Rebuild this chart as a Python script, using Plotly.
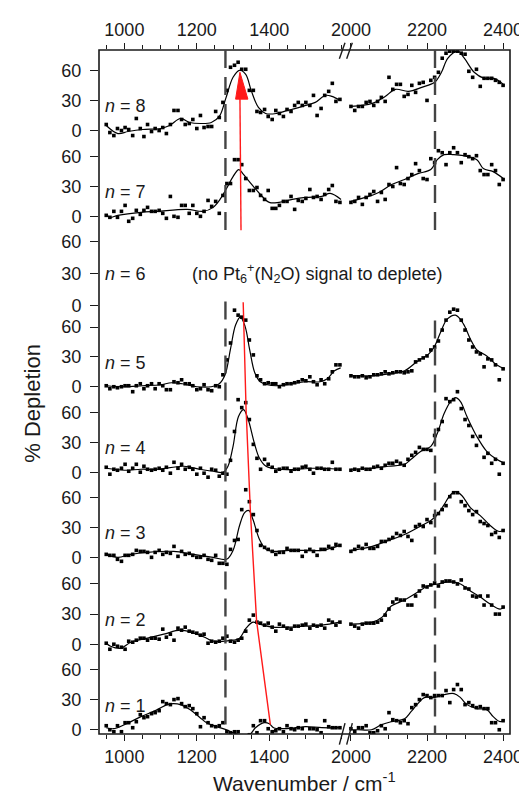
import plotly.graph_objects as go

# wavenumber grids of the two measured windows
WN_LEFT = [950, 960, 971, 981, 992, 1002, 1012, 1023, 1033, 1044,
           1054, 1064, 1075, 1085, 1096, 1106, 1116, 1127, 1137, 1148,
           1158, 1168, 1179, 1189, 1200, 1210, 1220, 1231, 1241, 1252,
           1262, 1272, 1283, 1293, 1304, 1314, 1324, 1335, 1345, 1356,
           1366, 1376, 1387, 1397, 1408, 1418, 1428, 1439, 1449, 1460,
           1470, 1480, 1491, 1501, 1512, 1522, 1532, 1543, 1553, 1564,
           1574, 1584, 1595]
WN_RIGHT = [2000, 2010, 2020, 2030, 2040, 2050, 2060, 2070, 2080, 2090,
            2100, 2110, 2120, 2130, 2140, 2150, 2160, 2170, 2180, 2190,
            2200, 2210, 2220, 2230, 2240, 2250, 2260, 2270, 2280, 2290,
            2300, 2310, 2320, 2330, 2340, 2350, 2360, 2370, 2380, 2390, 2400]

# % depletion, measured points
PTS_L8 = [6,-2,-5,2,0,3,1,-5,12,2,-6,6,-1,2,0,3,-3,6,20,20,11,6,7,11,2,15,3,4,4,19,
          13,28,40,63,65,68,61,61,40,40,19,18,21,14,11,20,17,14,21,19,25,28,25,28,25,
          35,15,22,35,39,47,29,31]
PTS_R8 = [24,20,24,24,28,29,25,29,33,29,53,41,46,46,34,36,45,38,47,48,30,50,53,58,72,
          77,79,79,79,77,76,59,53,61,44,52,52,52,50,48,45]
PTS_L7 = [1,-1,5,-1,5,11,-5,-2,6,2,6,9,5,5,6,3,-2,20,0,-1,11,11,3,11,3,0,5,16,10,15,
          3,21,33,33,57,57,52,38,26,26,29,21,17,26,8,8,11,15,15,20,7,16,15,18,27,19,
          20,17,22,27,31,15,14]
PTS_R7 = [14,15,19,12,19,22,25,15,24,17,32,30,49,33,32,38,42,53,46,38,37,58,54,66,64,
          52,64,69,64,54,62,60,58,61,46,42,42,52,46,32,37]
PTS_L5 = [1,-2,0,-1,0,1,1,-5,1,3,-2,1,3,-2,3,1,-3,-3,5,4,7,3,3,1,-3,-2,2,-3,-4,1,
          0,12,27,44,77,72,70,67,47,32,11,7,3,4,3,3,0,2,3,3,4,5,7,6,10,5,2,7,3,8,
          15,22,22]
PTS_R5 = [11,10,10,11,9,10,12,12,13,15,13,14,15,15,14,15,16,25,27,29,31,37,40,46,57,
          67,75,78,77,67,57,47,40,35,33,20,28,27,22,7,18]
PTS_L4 = [5,-2,3,2,4,8,1,4,8,0,6,3,2,3,4,2,5,-1,10,4,8,3,5,3,-2,4,-1,-5,3,2,-4,-1,-2,
          12,41,73,65,70,53,28,14,3,13,8,5,1,3,4,4,1,3,3,5,6,3,-1,4,4,3,3,10,3,3]
PTS_R4 = [2,3,2,4,3,3,5,6,4,7,9,9,11,9,7,13,17,20,25,23,23,22,37,43,51,74,71,73,81,64,
          53,47,36,27,36,15,19,9,13,-2,9]
PTS_L3 = [3,2,2,-2,-4,2,2,3,7,6,6,5,0,5,7,3,5,4,11,1,6,3,4,2,0,0,2,-2,-3,2,-6,-6,-7,
          8,17,18,48,68,56,43,27,12,10,8,6,3,5,5,9,7,7,7,1,6,8,6,2,8,8,11,9,13,12]
PTS_R3 = [6,8,11,9,13,9,9,11,16,16,18,20,24,22,26,21,17,31,33,31,38,35,42,44,48,52,61,
          65,65,56,52,47,43,46,36,34,32,23,25,20,27]
PTS_L2 = [1,-5,0,-2,-3,-5,3,2,4,6,6,4,6,6,5,15,7,10,4,16,14,17,13,12,11,9,10,1,3,2,
          3,6,8,3,2,4,6,13,24,29,22,21,19,21,17,13,20,18,16,15,18,18,19,20,16,19,18,
          19,16,24,22,19,22]
PTS_R2 = [20,18,16,20,21,21,21,22,24,29,35,42,45,44,44,39,39,48,53,58,57,59,61,58,62,
          63,63,62,60,64,56,55,48,47,48,39,48,39,30,30,37]
PTS_L1 = [4,0,-2,4,-2,7,7,2,8,15,12,13,16,17,19,28,26,25,30,31,26,23,24,21,16,3,12,7,
          4,3,4,7,-2,-3,-2,-2,-6,-7,-5,4,-3,9,9,1,-2,-1,1,-2,4,1,0,2,1,9,1,1,0,-3,9,
          3,2,2,2]
PTS_R1 = [1,-2,2,2,4,-3,-3,-1,4,1,17,10,9,7,9,6,22,25,30,35,34,32,34,34,34,39,27,40,
          45,40,25,27,24,22,23,21,21,7,7,0,9]

# smoothed fits
FIT_L8_X = [950, 982, 1010, 1050, 1100, 1125, 1155, 1180, 1210, 1240, 1262, 1280, 1300,
            1318, 1335, 1350, 1370, 1390, 1420, 1450, 1473, 1500, 1527, 1555, 1573, 1595]
FIT_L8_Y = [5, -3, -1, 1, 2, 5, 12, 8, 7, 8, 14, 32, 53, 60, 56, 40, 23, 17, 17, 20, 22,
            25, 28, 35, 34, 30]
FIT_R8_X = [2000, 2056, 2090, 2117, 2151, 2186, 2220, 2238, 2255, 2281, 2298, 2324, 2350,
            2376, 2404]
FIT_R8_Y = [24, 27, 34, 41, 39, 43, 48, 58, 72, 79, 72, 58, 52, 52, 45]

FIT_L7_X = [950, 960, 982, 1046, 1091, 1173, 1218, 1245, 1264, 1282, 1300, 1316, 1327,
            1345, 1373, 1400, 1427, 1464, 1500, 1545, 1568, 1598]
FIT_L7_Y = [2, -1, 1, 4, 5, 7, 5, 9, 17, 28, 40, 47, 43, 35, 23, 14, 14, 17, 19, 20, 23, 17]
FIT_R7_X = [2000, 2038, 2073, 2107, 2141, 2176, 2210, 2227, 2245, 2270, 2296, 2331, 2348,
            2374, 2404]
FIT_R7_Y = [15, 19, 24, 32, 37, 43, 47, 57, 62, 62, 61, 57, 48, 45, 37]

FIT_L5_X = [950, 1000, 1050, 1100, 1130, 1160, 1200, 1240, 1262, 1278, 1293, 1307, 1320,
            1333, 1346, 1360, 1375, 1395, 1420, 1460, 1500, 1540, 1560, 1580, 1597]
FIT_L5_Y = [1, 0, 1, 2, 4, 3, 0, 0, 3, 12, 38, 62, 70, 61, 37, 14, 5, 2, 1, 3, 5, 5, 8,
            16, 19]
FIT_R5_X = [2000, 2050, 2100, 2141, 2176, 2202, 2219, 2236, 2253, 2275, 2296, 2314, 2331,
            2357, 2383, 2404]
FIT_R5_Y = [11, 11, 13, 16, 26, 32, 40, 55, 68, 72, 63, 48, 37, 31, 22, 18]

FIT_L4_X = [950, 1000, 1046, 1091, 1164, 1209, 1245, 1273, 1286, 1300, 1315, 1329, 1341,
            1359, 1373, 1391, 1427, 1482, 1518, 1595]
FIT_L4_Y = [4, 2, 3, 3, 6, 3, 1, 0, 6, 26, 56, 63, 54, 29, 14, 6, 3, 3, 4, 3]
FIT_R4_X = [2000, 2056, 2099, 2141, 2158, 2184, 2210, 2227, 2245, 2262, 2275, 2288, 2305,
            2331, 2357, 2383, 2404]
FIT_R4_Y = [3, 4, 6, 8, 13, 21, 26, 39, 59, 71, 75, 71, 56, 36, 21, 13, 9]

FIT_L3_X = [950, 982, 1018, 1064, 1136, 1191, 1245, 1282, 1300, 1318, 1332, 1344, 1355,
            1373, 1391, 1409, 1455, 1500, 1545, 1595]
FIT_L3_Y = [3, 0, 3, 5, 6, 3, 0, -2, 7, 32, 45, 47, 38, 18, 8, 6, 7, 7, 7, 12]
FIT_R3_X = [2000, 2056, 2099, 2141, 2176, 2210, 2227, 2245, 2262, 2275, 2292, 2314, 2340,
            2366, 2383, 2392, 2404]
FIT_R3_Y = [7, 11, 17, 23, 30, 37, 43, 53, 63, 66, 62, 50, 42, 32, 27, 26, 28]

FIT_L2_X = [950, 962, 990, 1018, 1064, 1109, 1155, 1200, 1227, 1245, 1300, 1318, 1336,
            1355, 1373, 1409, 1455, 1500, 1545, 1595]
FIT_L2_Y = [1, -2, -4, 2, 6, 10, 14, 10, 6, 3, 4, 6, 16, 22, 20, 17, 17, 18, 19, 22]
FIT_R2_X = [2000, 2056, 2082, 2106, 2141, 2176, 2202, 2227, 2262, 2288, 2314, 2340, 2366,
            2392, 2404]
FIT_R2_Y = [20, 22, 27, 38, 44, 52, 58, 60, 62, 60, 53, 47, 40, 35, 37]

FIT_L1_X = [950, 970, 1000, 1046, 1091, 1118, 1136, 1155, 1182, 1209, 1227, 1255, 1282,
            1300, 1320, 1345, 1362, 1386, 1400, 1412, 1436, 1473, 1500, 1545, 1595]
FIT_L1_Y = [2, 1, 5, 13, 20, 25, 26, 25, 20, 12, 7, 3, 0, -3, -5, -5, 2, 7, 6, 2, 1, 2,
            3, 2, 2]
FIT_R1_X = [2000, 2019, 2054, 2080, 2106, 2141, 2158, 2176, 2193, 2219, 2245, 2271, 2288,
            2305, 2331, 2357, 2374, 2392, 2404]
FIT_R1_Y = [0, 0, 0, 5, 8, 11, 18, 26, 32, 32, 35, 36, 32, 25, 21, 20, 13, 8, 10]

# red guide lines following the peak shift
ARROW_WN = [1322, 1319]          # tail (n=7), tip (n=8)
ARROW_VAL = [-14, 58]
TRACK_N = [5, 4, 3, 2, 1]
TRACK_WN = [1328, 1336, 1348, 1365, 1403]
TRACK_VAL = [85, 63, 45, 23, 5]

DASH_WN = [1279, 2221]
Y_TICKS = [0, 30, 60]

# baseline of each panel on the shared y axis and its vertical scale
ZERO = {8: 602.7, 7: 516.4, 6: 426.7, 5: 345.0, 4: 259.0, 3: 173.4, 2: 86.0, 1: 0.0}
SCALE = {8: 1.01, 7: 1.0, 6: 1.065, 5: 1.0, 4: 1.0, 3: 1.0, 2: 1.01, 1: 1.01}
Y_MIN, Y_MAX = -4.3, 683.7

panels = [
    (8, PTS_L8, PTS_R8, FIT_L8_X, FIT_L8_Y, FIT_R8_X, FIT_R8_Y),
    (7, PTS_L7, PTS_R7, FIT_L7_X, FIT_L7_Y, FIT_R7_X, FIT_R7_Y),
    (5, PTS_L5, PTS_R5, FIT_L5_X, FIT_L5_Y, FIT_R5_X, FIT_R5_Y),
    (4, PTS_L4, PTS_R4, FIT_L4_X, FIT_L4_Y, FIT_R4_X, FIT_R4_Y),
    (3, PTS_L3, PTS_R3, FIT_L3_X, FIT_L3_Y, FIT_R3_X, FIT_R3_Y),
    (2, PTS_L2, PTS_R2, FIT_L2_X, FIT_L2_Y, FIT_R2_X, FIT_R2_Y),
    (1, PTS_L1, PTS_R1, FIT_L1_X, FIT_L1_Y, FIT_R1_X, FIT_R1_Y),
]

def yv(n, vals):
    return [ZERO[n] + SCALE[n] * v for v in vals]

FONT = "Liberation Sans, Arial, sans-serif"
INK = "#1a1a1a"

# pixel layout of the plot frame
L, R, T, B = 91, 507, 38, 726
PW, PH = R - L, B - T
def px(p):
    return (p - L) / PW
def py(p):
    return (B - p) / PH

fig = go.Figure()

for n, pl, pr, flx, fly, frx, fry in panels:
    fig.add_trace(go.Scatter(x=flx, y=yv(n, fly), mode="lines", line_shape="spline",
                             line=dict(color="black", width=1.2), xaxis="x", yaxis="y",
                             hoverinfo="skip", showlegend=False))
    fig.add_trace(go.Scatter(x=frx, y=yv(n, fry), mode="lines", line_shape="spline",
                             line=dict(color="black", width=1.2), xaxis="x2", yaxis="y",
                             hoverinfo="skip", showlegend=False))
    fig.add_trace(go.Scatter(x=WN_LEFT, y=yv(n, pl), mode="markers",
                             marker=dict(symbol="square", size=3.6, color="black"),
                             xaxis="x", yaxis="y", showlegend=False))
    fig.add_trace(go.Scatter(x=WN_RIGHT, y=yv(n, pr), mode="markers",
                             marker=dict(symbol="square", size=3.6, color="black"),
                             xaxis="x2", yaxis="y", showlegend=False))

RED = "#ff1a1a"
# upper arrow n=7 -> n=8
tail_y = ZERO[7] + SCALE[7] * ARROW_VAL[0]
tip_y = ZERO[8] + SCALE[8] * ARROW_VAL[1]
base_y = tip_y - 27
fig.add_trace(go.Scatter(x=[ARROW_WN[0], ARROW_WN[1]], y=[tail_y, base_y + 3], mode="lines",
                         line=dict(color=RED, width=1.4), xaxis="x", yaxis="y",
                         hoverinfo="skip", showlegend=False))
fig.add_trace(go.Scatter(x=[ARROW_WN[1] - 12, ARROW_WN[1] + 22, ARROW_WN[1], ARROW_WN[1] - 12],
                         y=[base_y, base_y, tip_y, base_y], mode="lines", fill="toself",
                         fillcolor=RED, line=dict(color=RED, width=1), xaxis="x", yaxis="y",
                         hoverinfo="skip", showlegend=False))
# lower track n=5 -> n=1
fig.add_trace(go.Scatter(x=TRACK_WN, y=[ZERO[n] + SCALE[n] * v for n, v in zip(TRACK_N, TRACK_VAL)],
                         mode="lines", line=dict(color=RED, width=1.4), xaxis="x", yaxis="y",
                         hoverinfo="skip", showlegend=False))

# dummy traces so the top axes exist
fig.add_trace(go.Scatter(x=[1000], y=[Y_MIN - 100], xaxis="x3", yaxis="y", mode="markers",
                         marker=dict(opacity=0), hoverinfo="skip", showlegend=False))
fig.add_trace(go.Scatter(x=[2200], y=[Y_MIN - 100], xaxis="x4", yaxis="y", mode="markers",
                         marker=dict(opacity=0), hoverinfo="skip", showlegend=False))

left_end, right_start = 338, 340
left_range = [930, 930 + (left_end - L) / 0.3667]
right_range = [2000 - (346 - right_start) / 0.385, 2000 + (R - 346) / 0.385]
dom_l = [0, px(left_end)]
dom_r = [px(right_start), 1]

def xax(dom, rng, major, minor, side="bottom", overlay=None):
    d = dict(range=rng, tickmode="array", tickvals=major, ticks="outside", ticklen=6,
             tickwidth=1.3, tickcolor=INK, showgrid=False, zeroline=False, showline=False,
             tickfont=dict(size=18, color=INK, family=FONT), side=side, anchor="y",
             minor=dict(tickmode="array", tickvals=minor, ticks="outside", ticklen=4,
                        tickwidth=1.2, tickcolor=INK, showgrid=False))
    if overlay:
        d["overlaying"] = overlay
    else:
        d["domain"] = dom
    return d

minor_l = [950, 1050, 1100, 1150, 1250, 1300, 1350, 1450, 1500, 1550, 1600]
minor_r = [2050, 2100, 2150, 2250, 2300, 2350]

tv, tt = [], []
for n in range(1, 9):
    for v in Y_TICKS:
        tv.append(ZERO[n] + SCALE[n] * v)
        tt.append(str(v))

shapes = [dict(type="rect", xref="paper", yref="paper", x0=0, x1=1, y0=0, y1=1,
               line=dict(color=INK, width=1.6), layer="above")]

# dashed markers (upper block and lower block)
for xr, wn, gaps in [("x", DASH_WN[0], (499.7, 430.7)), ("x2", DASH_WN[1], (498.7, 411.7))]:
    for y0, y1 in [(Y_MAX, gaps[0]), (gaps[1], Y_MIN)]:
        shapes.append(dict(type="line", xref=xr, yref="y", x0=wn, x1=wn, y0=y0, y1=y1,
                           line=dict(color="#444444", width=2.4, dash="18px,9px"),
                           layer="above"))

# axis break marks
for yb, yt in [(46.7, 30.7), (736.7, 715)]:
    for xb in (334.3, 341.7):
        shapes.append(dict(type="line", xref="paper", yref="paper",
                           x0=px(xb), y0=py(yb), x1=px(xb + 5.7), y1=py(yt),
                           line=dict(color=INK, width=1.4)))

annotations = []
for n in range(1, 9):
    annotations.append(dict(x=px(95), y=ZERO[n] + SCALE[n] * (30 if n == 6 else 24),
                            xref="paper", yref="y", xanchor="left", yanchor="middle",
                            text=f"<i>n</i> = {n}", showarrow=False,
                            font=dict(size=18, color=INK, family=FONT)))
annotations.append(dict(x=px(312), y=ZERO[6] + SCALE[6] * 30, xref="paper", yref="y",
                        xanchor="center", yanchor="middle", showarrow=False,
                        text="(no Pt<sub>6</sub><sup>+</sup>(N<sub>2</sub>O) signal to deplete)",
                        font=dict(size=18, color=INK, family=FONT)))
annotations.append(dict(x=px(24), y=py(393), xref="paper", yref="paper", textangle=-90,
                        text="% Depletion", showarrow=False, xanchor="center", yanchor="middle",
                        font=dict(size=22, color=INK, family=FONT)))
annotations.append(dict(x=0.5, y=py(774), xref="paper", yref="paper",
                        text="Wavenumber / cm<sup>-1</sup>", showarrow=False,
                        xanchor="center", yanchor="middle",
                        font=dict(size=21, color=INK, family=FONT)))

fig.update_layout(
    width=527, height=795,
    margin=dict(l=L, r=527 - R, t=T, b=795 - B),
    paper_bgcolor="white", plot_bgcolor="white",
    font=dict(family=FONT, color=INK),
    xaxis=xax(dom_l, left_range, [1000, 1200, 1400], minor_l),
    xaxis2=xax(dom_r, right_range, [2000, 2200, 2400], minor_r),
    xaxis3=xax(dom_l, left_range, [1000, 1200, 1400], minor_l, side="top", overlay="x"),
    xaxis4=xax(dom_r, right_range, [2000, 2200, 2400], minor_r, side="top", overlay="x2"),
    yaxis=dict(range=[Y_MIN, Y_MAX], tickmode="array", tickvals=tv, ticktext=tt,
               ticks="outside", ticklen=8, tickwidth=1.3, tickcolor=INK,
               ticklabelstandoff=5, showgrid=False, zeroline=False, showline=False,
               tickfont=dict(size=18, color=INK, family=FONT)),
    shapes=shapes,
    annotations=annotations,
    showlegend=False,
)

fig.write_html("out.html")
